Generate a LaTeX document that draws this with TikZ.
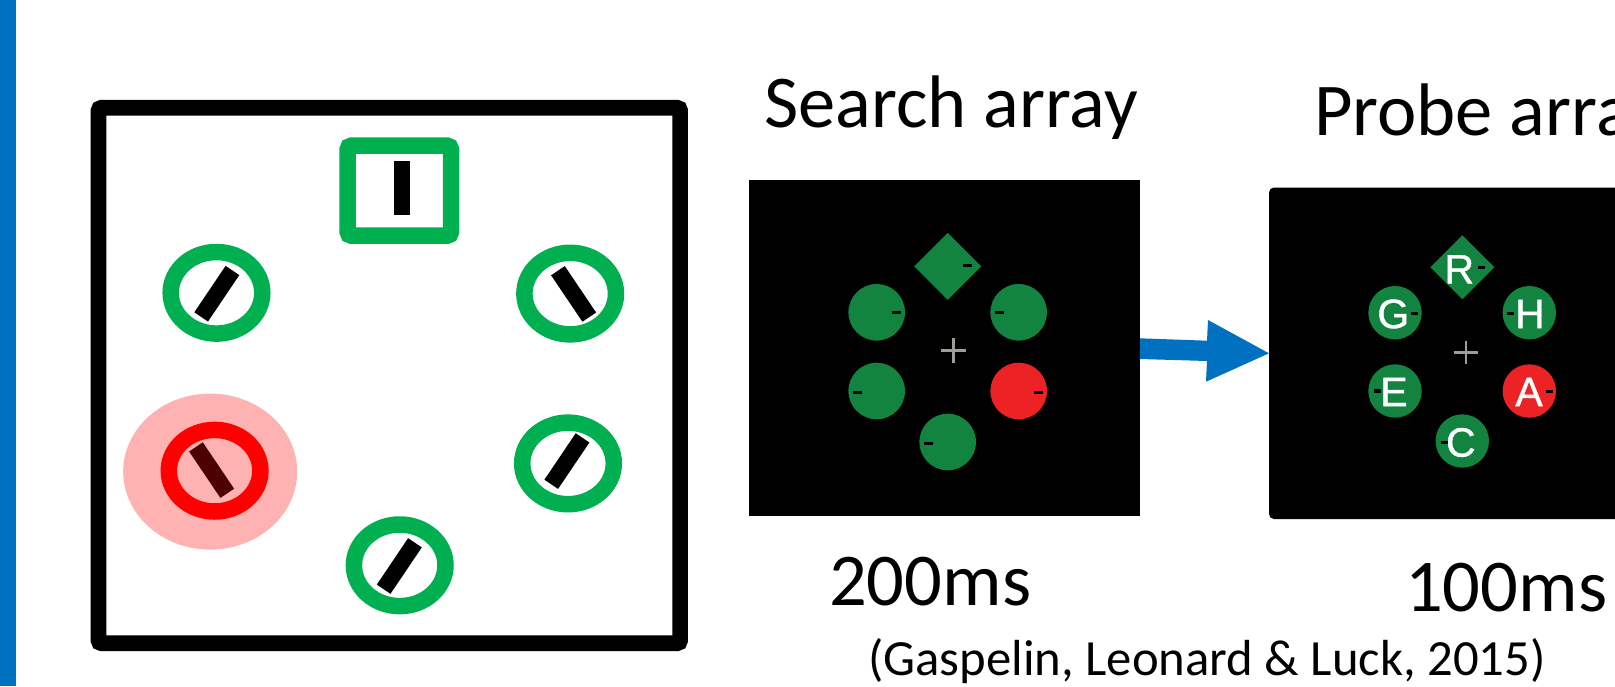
\documentclass[tikz,border=0pt]{standalone}
\usepackage{fontspec}
\setmainfont{Carlito}
\newfontfamily\arialf[FakeBold=1]{Liberation Sans}
\usetikzlibrary{shapes.geometric}
\definecolor{pptblue}{HTML}{0070C0}
\definecolor{officegreen}{HTML}{00B050}
\definecolor{stimgreen}{HTML}{128440}
\definecolor{stimred}{HTML}{ED2224}
\definecolor{crossgray}{HTML}{A09C98}
\begin{document}
\begin{tikzpicture}[x=1pt,y=-1pt,
  ring/.style={ellipse, draw=officegreen, line width=16.5pt, minimum width=91.6pt, minimum height=81.6pt, inner sep=0pt},
  barr/.style={rectangle, fill=black, minimum width=56pt, minimum height=16.5pt, inner sep=0pt},
  disc/.style={circle, fill=stimgreen, minimum size=56.6pt, inner sep=0pt},
  pdisc/.style={circle, fill=stimgreen, minimum size=53.4pt, inner sep=0pt},
  tick/.style={black, line width=3.2pt},
  fix/.style={crossgray, line width=2.4pt},
  lbl/.style={font=\fontsize{74.5}{80}\selectfont, anchor=base west, inner sep=0pt},
  ltr/.style={font=\arialf\fontsize{41}{44}\selectfont, text=white, inner sep=0pt}]
\useasboundingbox (0,0) rectangle (1615,686);
\clip (0,0) rectangle (1615,686);
\fill[white] (0,0) rectangle (1615,686);
% left blue bar
\fill[pptblue] (0,0) rectangle (15.5,686);

% ---------- left display ----------
\node[draw=black, line width=15.7pt, rounded corners=3pt, minimum width=581.65pt, minimum height=535.4pt, inner sep=0pt] (display) at (389.3,375.5) {};
\node[draw=officegreen, line width=16.5pt, rounded corners=4pt, minimum width=103.4pt, minimum height=90.1pt, inner sep=0pt] (sq) at (399.3,190.65) {};
\node[fill=black, minimum width=16.5pt, minimum height=54.4pt, inner sep=0pt] (sqbar) at (401.85,187.7) {};
\node[ring] (rUL) at (216.5,292.8) {};
\node[ring] (rUR) at (570.2,293.6) {};
\node[ring] (rRL) at (568,463.4) {};
\node[ring] (rB)  at (399.7,565.3) {};
\node[ring, draw=red] (rRed) at (214.6,470.7) {};
\node[barr, rotate=56]  (bUL) at (216.8,293.7) {};
\node[barr, rotate=-56] (bUR) at (573.6,293.9) {};
\node[barr, rotate=-56] (bRed) at (211.6,470.1) {};
\node[barr, rotate=56]  (bRL) at (566.9,461.1) {};
\node[barr, rotate=56]  (bB)  at (399.3,566) {};
\fill[red, opacity=0.3] (210.2,471.6) ellipse [x radius=87pt, y radius=78pt];

% ---------- search array ----------
\node[fill=black, minimum width=391pt, minimum height=335.7pt, inner sep=0pt] (search) at (944.5,347.85) {};
\fill[stimgreen] (947.7,232.8) -- (981.2,266.3) -- (947.7,299.8) -- (914.2,266.3) -- cycle;
\node[disc] (sUL) at (876.7,312.3) {};
\node[disc] (sUR) at (1018.7,312.3) {};
\node[disc] (sLL) at (876.7,391) {};
\node[disc, fill=stimred] (sLR) at (1018.7,391) {};
\node[disc] (sB) at (947.7,442) {};
\draw[tick] (962.8,265.7) -- (971.8,265.7);
\draw[tick] (891.5,312.3) -- (900.5,312.3);
\draw[tick] (994.5,312.3) -- (1003.5,312.3);
\draw[tick] (852.5,392.7) -- (861.5,392.7);
\draw[tick] (1033.8,392.7) -- (1042.8,392.7);
\draw[tick] (923.8,443.3) -- (932.8,443.3);
\draw[fix] (940.6,350.3) -- (966,350.3) (953.3,337.6) -- (953.3,363);

% ---------- probe array ----------
\node[fill=black, rounded corners=5pt, minimum width=371pt, minimum height=331.5pt, inner sep=0pt] (probe) at (1454.5,353.25) {};
\fill[stimgreen] (1462.3,235.3) -- (1494.3,267.3) -- (1462.3,299.3) -- (1430.3,267.3) -- cycle;
\node[pdisc] (pG) at (1395,312.7) {};
\node[pdisc] (pH) at (1529.3,312.7) {};
\node[pdisc] (pE) at (1395,391) {};
\node[pdisc, fill=stimred] (pA) at (1529.3,391) {};
\node[pdisc] (pC) at (1462.3,441) {};
\node[ltr] (lR) at (1459.3,269.3) {R};
\node[ltr] (lG) at (1393.3,314) {G};
\node[ltr] (lH) at (1530,314) {H};
\node[ltr] (lE) at (1394,392) {E};
\node[ltr] (lA) at (1529,392) {A};
\node[ltr] (lC) at (1460.8,442.5) {C};
\draw[tick] (1477.5,267.3) -- (1484.5,267.3);
\draw[tick] (1410.8,313.3) -- (1417.8,313.3);
\draw[tick] (1506.5,313.3) -- (1513.5,313.3);
\draw[tick] (1373.8,391) -- (1380.8,391);
\draw[tick] (1545.8,391.7) -- (1552.8,391.7);
\draw[tick] (1440.5,442.3) -- (1447.5,442.3);
\draw[fix] (1454.3,352.3) -- (1477.7,352.3) (1466,340.6) -- (1466,364);

% ---------- arrow ----------
\fill[pptblue] (1140,338.3) -- (1207,340.7) -- (1208,320) -- (1269,353.3) -- (1206,381.7) -- (1207,361) -- (1140,359) -- cycle;

% ---------- labels ----------
\node[lbl] (tSearch) at (764,127) {Search array};
\node[lbl] (tProbe) at (1314,135) {Probe array};
\node[lbl] (t200) at (829,605) {200ms};
\node[lbl] (t100) at (1405,611) {100ms};
\node[lbl, font=\fontsize{50.7}{56}\selectfont] (tCite) at (868,675) {(Gaspelin, Leonard \& Luck, 2015)};
\end{tikzpicture}
\end{document}
